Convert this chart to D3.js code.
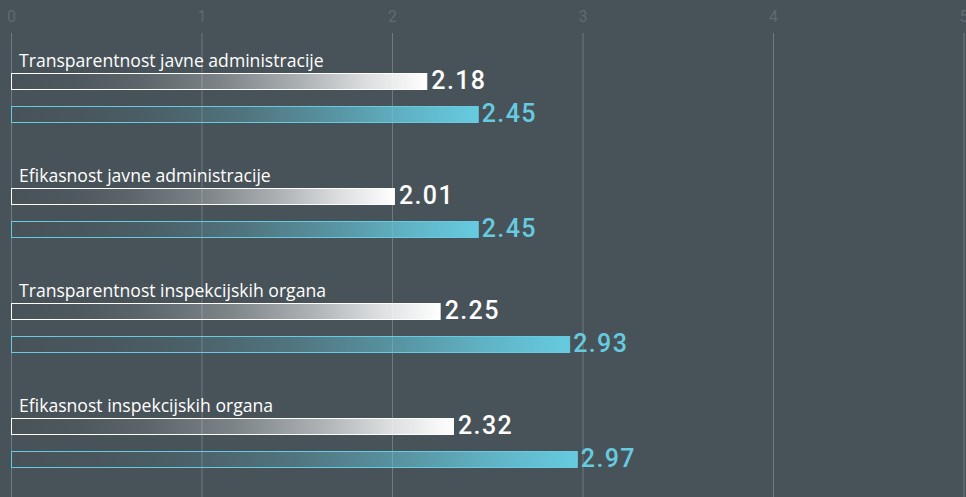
<!DOCTYPE html>
<html>
<head>
<meta charset="utf-8">
<script src="https://cdn.jsdelivr.net/npm/d3@7"></script>
<style>
  html, body { margin: 0; padding: 0; background: #485359; overflow: hidden; }
  svg { display: block; }
</style>
</head>
<body>
<svg id="chart" width="966" height="497"></svg>
<script>
const categories = [
  "Transparentnost javne administracije",
  "Efikasnost javne administracije",
  "Transparentnost inspekcijskih organa",
  "Efikasnost inspekcijskih organa"
];
const seriesWhite = [2.18, 2.01, 2.25, 2.32];
const seriesBlue = [2.45, 2.45, 2.93, 2.97];
const tickValues = [0, 1, 2, 3, 4, 5];

const W = 966, H = 497;
const BG = "#485359";
const BLUE = "#66cbe0";
const svg = d3.select("#chart");

svg.append("rect").attr("width", W).attr("height", H).attr("fill", BG);

const x = d3.scaleLinear().domain([0, 5]).range([11, 963.5]);
const y = d3.scaleBand().domain(categories).range([40, 40 + 115 * categories.length]).paddingInner(0).paddingOuter(0);

// gradients
const defs = svg.append("defs");
function makeGrad(id, color) {
  const g = defs.append("linearGradient").attr("id", id)
    .attr("x1", "0%").attr("x2", "100%").attr("y1", "0%").attr("y2", "0%");
  const stops = [[0, 0], [0.15, 0.03], [0.3, 0.1], [0.5, 0.28], [0.7, 0.55], [0.85, 0.8], [1, 1]];
  stops.forEach(([o, a]) => g.append("stop").attr("offset", o).attr("stop-color", color).attr("stop-opacity", a));
}
makeGrad("gw", "#ffffff");
makeGrad("gb", BLUE);

// axis + gridlines
const axis = d3.axisTop(x).tickValues(tickValues).tickFormat(d3.format("d"))
  .tickSize(-(H - 33)).tickPadding(11);
const ag = svg.append("g").attr("transform", "translate(0,33)").call(axis);
ag.select(".domain").remove();
ag.selectAll(".tick line").attr("stroke", "#6f7a7f").attr("stroke-width", 1);
ag.selectAll(".tick text").attr("fill", "#5e6a70")
  .style("font-family", "Roboto, 'Noto Sans', sans-serif").style("font-size", "16px");

const barH = 16;
const groups = svg.append("g").selectAll("g").data(categories).join("g")
  .attr("transform", d => `translate(0,${y(d)})`);

groups.append("text")
  .attr("x", 19).attr("y", 27)
  .attr("fill", "#ffffff")
  .style("font-family", "'Open Sans', Roboto, sans-serif").style("font-size", "17.6px")
  .text(d => d);

// white bars
groups.append("rect")
  .attr("x", x(0) + 0.5).attr("y", 33.5)
  .attr("width", (d, i) => x(seriesWhite[i]) - x(0))
  .attr("height", barH)
  .attr("fill", "url(#gw)").attr("stroke", "#ffffff").attr("stroke-width", 1);

groups.append("text")
  .attr("x", (d, i) => x(seriesWhite[i]) + 5).attr("y", 49)
  .attr("fill", "#ffffff")
  .style("font-family", "Roboto, sans-serif").style("font-size", "25px").style("font-weight", 500)
  .style("letter-spacing", "1.4px")
  .text((d, i) => seriesWhite[i].toFixed(2));

// blue bars
groups.append("rect")
  .attr("x", x(0) + 0.5).attr("y", 66.5)
  .attr("width", (d, i) => x(seriesBlue[i]) - x(0))
  .attr("height", barH)
  .attr("fill", "url(#gb)").attr("stroke", BLUE).attr("stroke-width", 1);

groups.append("text")
  .attr("x", (d, i) => x(seriesBlue[i]) + 4).attr("y", 82)
  .attr("fill", BLUE)
  .style("font-family", "Roboto, sans-serif").style("font-size", "25px").style("font-weight", 500)
  .style("letter-spacing", "1.4px")
  .text((d, i) => seriesBlue[i].toFixed(2));
</script>
</body>
</html>
